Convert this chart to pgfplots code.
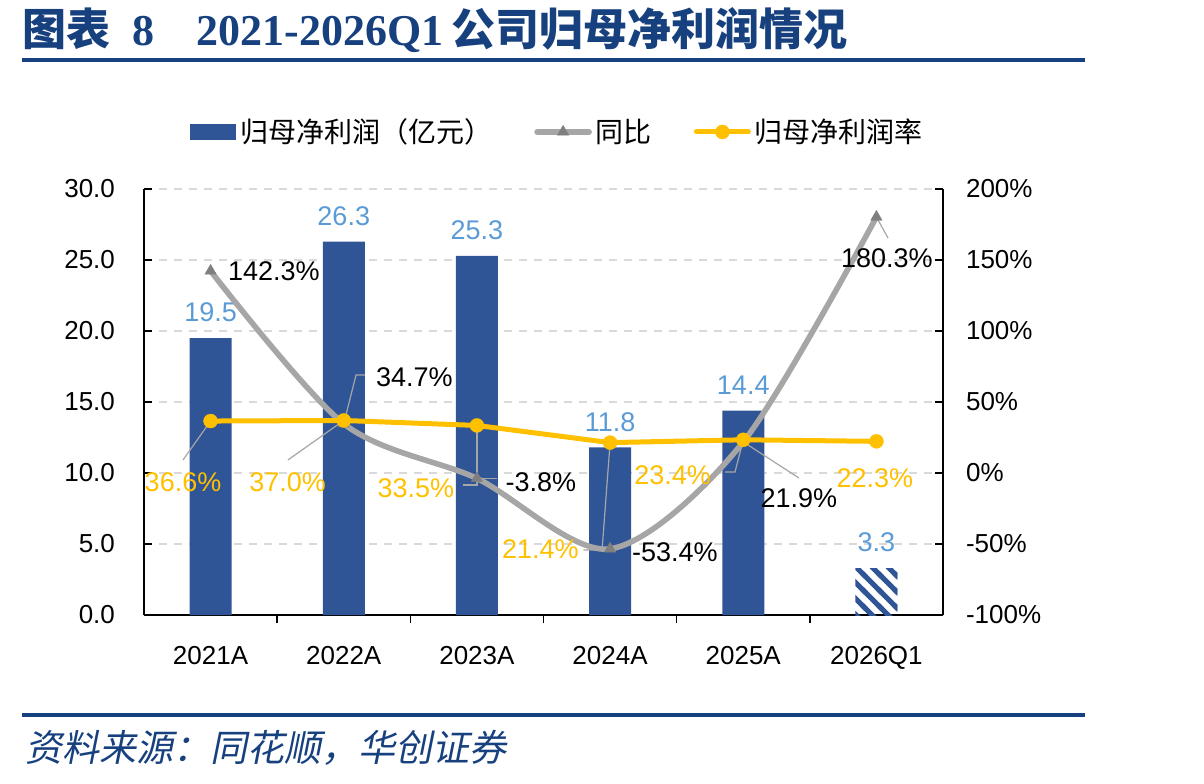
\documentclass[border=0pt]{standalone}
\usepackage{fontspec}
\setmainfont{Liberation Sans}
\newfontfamily\cjk{Noto Sans CJK SC}
\newfontfamily\cjkit{Noto Sans CJK SC}[FakeSlant=0.2]
\newfontfamily\serifb{Liberation Serif}
\usepackage{pgfplots}
\pgfplotsset{compat=1.18}
\usetikzlibrary{patterns}

\definecolor{barblue}{HTML}{2F5597}
\definecolor{lblblue}{HTML}{5B9BD5}
\definecolor{yoygray}{HTML}{A6A6A6}
\definecolor{markgray}{HTML}{7F7F7F}
\definecolor{margin}{HTML}{FFC000}
\definecolor{gridgray}{HTML}{D9D9D9}
\definecolor{titleblue}{HTML}{17407E}

% wide diagonal hatching for the quarterly bar
\pgfdeclarepatternformonly{thick nw lines}{\pgfqpoint{-2pt}{-2pt}}{\pgfqpoint{10pt}{10pt}}{\pgfqpoint{8pt}{8pt}}{%
  \pgfsetlinewidth{2.5pt}%
  \pgfpathmoveto{\pgfqpoint{-1pt}{9pt}}%
  \pgfpathlineto{\pgfqpoint{9pt}{-1pt}}%
  \pgfusepath{stroke}}

\pgfplotsset{
  linelegend/.style={legend image code/.code={%
    \draw[mark repeat=2, mark phase=2, ##1] plot coordinates {(0pt,0pt) (13pt,0pt) (26pt,0pt)};}},
  barlegend/.style={legend image code/.code={%
    \fill[barblue] (0pt,-3.75pt) rectangle (22.5pt,3.75pt);}},
}

\newcommand\lblfont{\fontsize{13.5}{15}\selectfont}

\begin{document}
\begin{tikzpicture}
\path[use as bounding box] (0,0) rectangle (602pt,-391.5pt);

% header and footer
\node[anchor=west, text=titleblue, inner sep=0] at (11pt,-15pt)
  {\fontsize{22}{24}\selectfont\cjk\bfseries 图表\hspace{11pt}{\serifb\bfseries 8}\hspace{21pt}{\serifb\bfseries 2021-2026Q1}\hspace{4pt}公司归母净利润情况};
\draw[titleblue, line width=2pt] (11pt,-30pt) -- (542.5pt,-30pt);
\draw[titleblue, line width=2pt] (11pt,-357.5pt) -- (542.5pt,-357.5pt);
\node[anchor=west, text=titleblue, inner sep=0] at (12.5pt,-374pt)
  {\fontsize{18.5}{20}\selectfont\cjkit 资料来源：同花顺，华创证券};

% net profit bars, left axis
\begin{axis}[
  at={(72pt,-307.5pt)}, anchor=south west,
  width=399.5pt, height=213pt, scale only axis,
  xmin=-0.5, xmax=5.5, ymin=0, ymax=30,
  axis x line*=bottom, axis y line*=left,
  axis line style={black, line width=0.8pt},
  xtick={0,...,5},
  xticklabels={2021A,2022A,2023A,2024A,2025A,2026Q1},
  major x tick style={draw=none},
  minor xtick={0.5,1.5,2.5,3.5,4.5},
  ytick={0,5,...,30},
  yticklabels={0.0,5.0,10.0,15.0,20.0,25.0,30.0},
  tick align=inside, major tick length=4pt, minor tick length=4pt,
  tick style={black, line width=0.8pt},
  ymajorgrids,
  grid style={gridgray, line width=1pt, dash pattern=on 4pt off 3.5pt},
  ticklabel style={font=\fontsize{13}{15}\selectfont},
  xticklabel style={yshift=-8pt},
  yticklabel style={xshift=-11pt},
  ybar, bar width=21pt,
  nodes near coords={\pgfmathprintnumber[fixed,precision=1,fixed zerofill,assume math mode=true]{\pgfplotspointmeta}},
  nodes near coords style={text=lblblue, font=\lblfont, anchor=south, yshift=4.5pt},
]
\addplot[fill=barblue, draw=none, bar shift=0pt] coordinates {(0,19.5) (1,26.3) (2,25.3) (3,11.8) (4,14.4)};
\addplot[pattern=thick nw lines, pattern color=barblue, draw=none, bar shift=0pt] coordinates {(5,3.3)};
\end{axis}

% growth and margin lines, right axis
\begin{axis}[
  at={(72pt,-307.5pt)}, anchor=south west,
  width=399.5pt, height=213pt, scale only axis,
  xmin=-0.5, xmax=5.5, ymin=-100, ymax=200,
  axis x line=none, axis y line*=right,
  axis line style={black, line width=0.8pt},
  ytick={-100,-50,...,200},
  yticklabels={-100\%,-50\%,0\%,50\%,100\%,150\%,200\%},
  tick align=inside, major tick length=4pt,
  tick style={black, line width=0.8pt},
  ticklabel style={font=\fontsize{13}{15}\selectfont},
  yticklabel style={xshift=8pt},
  clip=false,
  legend style={draw=none, fill=none, at={(0.519,1.134)}, anchor=center,
    font=\cjk\fontsize{14}{16}\selectfont, inner sep=0pt,
    nodes={inner sep=2pt},
    /tikz/every even column/.append style={column sep=19pt}},
  legend columns=3, legend cell align=left,
]
\addlegendimage{barlegend}
\addlegendentry{归母净利润（亿元）}

\addplot[yoygray, line width=2.8pt, line cap=round, smooth, tension=0.5,
  mark=triangle*, mark size=3.3pt,
  mark options={solid, fill=markgray, draw=markgray, line width=0.2pt},
  linelegend]
  coordinates {(0,142.3) (1,34.7) (2,-3.8) (3,-53.4) (4,21.9) (5,180.3)};
\addlegendentry{同比}

\addplot[margin, line width=2.5pt, line cap=round,
  mark=*, mark size=3.5pt,
  mark options={solid, fill=margin, draw=margin, line width=0.2pt},
  linelegend]
  coordinates {(0,36.6) (1,37.0) (2,33.5) (3,21.4) (4,23.4) (5,22.3)};
\addlegendentry{归母净利润率}

% leader lines
\begin{scope}[yoygray, line width=0.6pt]
\draw (axis cs:-0.207,9.2) -- (axis cs:0,36.6);
\draw (axis cs:0.581,9.2) -- (axis cs:1,37.0);
\draw (axis cs:1,34.7) -- (axis cs:1.092,69.0) -- (axis cs:1.159,69.0);
\draw (axis cs:1.895,-8.5) -- (axis cs:2,-8.5) -- (axis cs:2,33.5);
\draw (axis cs:2,-3.8) -- (axis cs:2.151,-3.8);
\draw (axis cs:3,21.4) -- (axis cs:2.94,-54.2) -- (axis cs:2.80,-54.2);
\draw (axis cs:4,23.4) -- (axis cs:3.938,0.7) -- (axis cs:3.863,0.7);
\draw (axis cs:4,21.9) -- (axis cs:4.418,-3.5);
\draw (axis cs:5,180.3) -- (axis cs:5.087,165.5);
\end{scope}

% growth labels
\begin{scope}[every node/.style={font=\lblfont, text=black, inner sep=0pt}]
\node at (axis cs:0.476,142.3) {142.3\%};
\node at (axis cs:1.531,67.5) {34.7\%};
\node at (axis cs:2.481,-6.3) {-3.8\%};
\node at (axis cs:3.487,-55.6) {-53.4\%};
\node at (axis cs:4.418,-17.6) {21.9\%};
\node at (axis cs:5.079,151.4) {180.3\%};
\end{scope}

% margin labels
\begin{scope}[every node/.style={font=\lblfont, text=margin, inner sep=0pt}]
\node at (axis cs:-0.207,-6.3) {36.6\%};
\node at (axis cs:0.578,-6.3) {37.0\%};
\node at (axis cs:1.542,-10.6) {33.5\%};
\node at (axis cs:2.477,-53.5) {21.4\%};
\node at (axis cs:3.469,-1.4) {23.4\%};
\node at (axis cs:4.989,-3.5) {22.3\%};
\end{scope}
\end{axis}
\end{tikzpicture}
\end{document}
